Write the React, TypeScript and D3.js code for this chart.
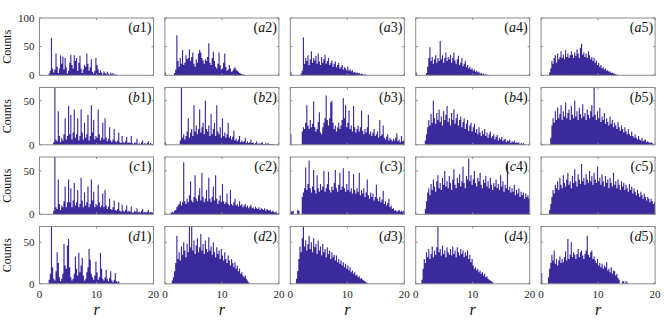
import React from 'react'
import * as d3 from 'd3'

// histogram counts, bins of width 0.2 starting at r = 0 (missing bins are empty)
const binWidth = 0.2
const rowIds = ['a', 'b', 'c', 'd']
const colIds = ['1', '2', '3', '4', '5']
const rowMax = [100, 65, 66, 69]
const rowTicks = [[0, 50, 100], [0, 50], [0, 50], [0, 50]]
const xTicks = [0, 10, 20]

const countsA1 = [0,0,0,0,0,0,0,0,3,8,65,12,5,10,38,15,4,12,35,20,33,10,30,14,3,8,22,36,18,12,35,25,30,8,22,34,12,4,10,18,15,38,20,8,14,28,6,3,8,30,18,10,4,9,5,2,7,4,2,6,3,1,5,2,4,1,2,1]
const countsA2 = [5,0,0,0,0,0,0,0,4,10,70,25,15,30,20,44,18,22,35,28,30,45,25,32,40,20,15,28,22,38,44,40,30,26,20,28,25,32,56,22,18,30,41,25,15,12,20,40,18,10,12,22,38,15,8,10,18,12,6,8,12,14,10,8,6,4,3,2,2,1]
const countsA3 = [6,0,0,0,0,0,0,0,0,3,8,66,20,30,25,35,18,28,42,22,30,26,34,20,38,24,18,32,22,28,36,20,25,30,18,22,26,15,20,24,14,18,22,12,15,18,10,14,12,9,15,8,10,7,9,5,6,4,5,3,4,2,3,2,1,2,1]
const countsA4 = [5,0,0,0,0,0,0,0,0,4,15,30,49,25,32,20,28,35,22,30,25,60,28,35,22,30,40,25,32,28,36,22,30,40,26,20,28,34,18,22,30,16,20,25,14,18,12,15,10,12,8,10,6,8,5,6,3,4,2,3,1,2,1,1]
const countsA5 = [0,0,0,0,0,0,0,5,12,25,20,30,35,22,38,28,32,42,30,36,28,44,32,38,30,35,42,36,30,40,34,45,38,30,48,55,36,40,32,38,30,42,35,28,32,25,30,22,26,18,22,15,18,12,14,10,12,8,9,6,7,4,5,3,3,2,1,1]

const countsB1 = [0,0,0,0,0,0,0,0,0,0,0,0,3,68,6,4,38,10,3,8,5,12,30,6,10,44,12,34,6,14,40,8,12,30,5,10,40,14,6,25,8,12,34,5,10,45,14,28,6,10,8,40,12,5,8,25,6,30,8,4,7,20,5,3,6,18,4,3,5,14,3,2,10,3,2,4,9,2,3,2,10,2,1,3,2,7,1,2,1,3,5,1,2,1,2,4,1,2,1,1]
const countsB2 = [3,0,0,0,0,0,0,0,0,0,0,0,0,5,68,8,12,6,10,15,30,8,14,18,10,45,15,22,12,18,40,14,20,25,12,50,18,15,22,10,35,12,18,25,10,45,15,12,20,8,30,10,14,8,12,25,8,10,6,9,16,5,7,4,6,10,3,5,3,4,8,2,4,2,3,6,2,3,1,2,4,1,2,1,2,3,1,1,2,1,2,1,1,1,1,1]
const countsB3 = [12,0,0,0,0,0,0,0,0,0,15,20,18,25,45,22,18,28,20,24,49,20,15,18,26,37,14,12,20,25,30,56,28,22,30,48,50,25,18,22,15,20,25,18,22,28,53,30,45,20,25,39,18,22,15,44,20,14,18,22,15,20,39,16,12,18,14,20,34,12,15,10,14,18,10,12,15,8,28,10,12,22,8,6,9,12,5,8,6,4,7,5,8,13,4,6,3,10,4,5]
const countsB4 = [0,0,0,0,0,0,0,0,5,12,20,28,22,35,25,50,30,24,36,28,40,26,32,22,38,28,34,44,26,30,22,36,28,40,24,30,35,22,28,32,20,26,30,18,24,28,16,22,25,15,20,24,14,18,12,20,14,10,16,12,18,10,14,8,12,15,8,10,12,6,9,11,5,8,6,9,4,6,7,3,5,4,6,2,4,3,5,2,3,2,3,1,2,1,2,1]
const countsB5 = [0,0,0,0,0,0,0,0,8,22,30,25,38,28,42,30,35,45,28,38,32,48,30,36,40,28,44,34,30,50,32,38,28,42,35,30,46,32,36,28,40,34,30,38,45,32,66,34,28,38,30,42,26,32,28,36,24,30,26,22,32,24,28,20,25,22,18,26,20,16,22,18,14,20,15,12,18,12,10,15,10,8,12,8,6,10,6,5,8,4,5,6,3,4,3,2,3,2,1,1]

const countsC1 = [0,0,0,0,0,0,0,0,0,0,0,0,4,66,8,6,40,12,5,10,8,15,32,8,14,40,14,30,8,16,36,10,14,28,8,12,42,16,8,25,10,14,32,8,12,40,16,26,8,12,10,34,14,8,10,24,8,28,10,6,9,18,6,5,8,16,5,4,6,14,4,3,11,4,3,5,10,3,4,3,9,2,2,4,3,7,2,3,2,4,6,2,3,2,3,5,2,3,2,2]
const countsC2 = [0,0,0,0,0,2,3,2,4,5,8,10,12,15,10,14,60,15,12,18,14,22,38,16,14,20,45,18,15,22,30,16,48,20,14,18,28,15,42,18,14,20,32,16,45,18,12,16,22,14,35,15,12,14,24,12,10,28,12,10,14,18,10,12,9,15,10,12,8,10,12,8,10,7,9,11,7,8,6,9,7,6,8,5,7,6,5,7,4,6,5,4,5,3,4,3,2,3,1,1]
const countsC3 = [4,3,4,0,0,0,5,4,0,0,20,25,30,54,28,35,62,30,25,32,51,28,24,45,30,26,35,28,32,50,26,30,35,49,28,25,32,28,36,51,30,26,34,48,28,32,53,30,26,35,28,50,26,30,24,46,28,24,30,26,48,22,28,24,30,20,25,40,22,18,25,20,24,16,20,34,18,15,20,14,17,27,12,15,10,13,18,8,10,6,7,4,5,3,4,5,3,4,3,4]
const countsC4 = [0,0,0,0,0,0,0,0,6,15,25,30,22,35,28,40,32,26,38,45,30,36,28,42,34,50,32,38,30,44,36,28,40,52,34,30,42,36,46,32,38,55,36,30,44,40,64,38,45,34,40,50,36,32,42,38,48,34,30,40,36,44,32,38,30,42,34,28,36,32,40,30,35,28,45,32,38,26,34,30,58,28,32,25,30,26,34,22,28,24,30,20,26,22,25,18,24,20,22,18]
const countsC5 = [0,0,0,0,0,0,0,5,12,20,28,24,34,30,38,28,42,34,30,45,36,32,40,48,34,38,30,44,36,52,38,32,46,40,35,58,38,42,34,46,40,36,50,38,44,34,48,40,36,55,38,42,34,46,38,32,44,36,40,30,42,36,32,48,34,38,30,40,34,28,38,32,36,28,34,30,26,35,28,32,24,30,26,22,28,24,20,26,22,18,24,20,16,20,18,14,18,15,12,14]

const countsD1 = [0,0,0,0,0,0,0,0,5,12,69,20,6,4,15,38,25,8,3,6,12,48,22,18,46,54,20,8,4,6,12,33,18,10,37,14,22,31,10,4,6,14,20,42,29,12,8,5,10,27,14,5,8,37,18,6,4,8,17,6,3,7,15,4,2,5,13,3,2,3]
const countsD2 = [0,0,0,0,0,0,4,8,15,25,58,30,38,28,45,35,50,40,32,48,38,69,44,69,40,52,36,46,55,38,44,60,40,48,36,52,42,38,56,40,45,35,50,38,32,44,36,40,30,42,34,28,38,30,25,34,28,22,30,25,20,26,18,22,15,18,12,14,10,8,10,6,4,2]
const countsD3 = [0,0,0,0,0,6,15,30,45,38,55,69,45,52,40,48,58,42,50,38,55,44,48,36,52,40,45,34,48,38,42,32,44,36,40,30,38,32,35,28,34,26,30,24,28,22,26,20,24,18,22,16,20,14,16,12,14,10,11,8,9,6,7,5,4,3,2,1]
const countsD4 = [0,0,0,0,0,5,18,30,25,38,32,42,30,36,45,32,40,35,44,69,38,42,34,46,36,40,32,44,38,35,42,34,45,36,40,32,44,38,34,42,36,40,32,38,34,40,30,35,26,30,22,18,20,16,18,14,16,12,14,10,12,8,9,6,5,4,3,2]
const countsD5 = [13,0,0,0,0,0,8,18,25,35,28,40,24,30,22,28,33,25,30,26,32,39,28,54,30,35,50,32,38,35,30,36,42,32,38,40,34,30,36,40,58,35,32,38,40,30,33,28,25,30,22,25,20,24,18,22,20,26,16,18,14,20,12,16,15,10,12,7,5,0,0,3,3,0,3,2]

const counts = [
  [countsA1, countsA2, countsA3, countsA4, countsA5],
  [countsB1, countsB2, countsB3, countsB4, countsB5],
  [countsC1, countsC2, countsC3, countsC4, countsC5],
  [countsD1, countsD2, countsD3, countsD4, countsD5],
]

const W = 664
const H = 321
const gridLeft = 39.5
const colPitch = 125.4
const panelW = 114
const gridTop = 18
const rowPitch = 69.5
const panelH = 57.3
const barColor = '#3a2a9c'
const boxColor = '#8a8a8a'
const font = '"Liberation Serif", "DejaVu Serif", serif'

function Panel({ row, col }: { row: number; col: number }) {
  const data = counts[row][col]
  const left = gridLeft + col * colPitch
  const top = gridTop + row * rowPitch
  const x = d3.scaleLinear().domain([0, 20]).range([0, panelW])
  const y = d3.scaleLinear().domain([0, rowMax[row]]).range([panelH, 0])
  const bw = x(binWidth) - x(0)
  const isBottom = row === rowIds.length - 1
  const tick = 2

  // all bars in one path so neighbouring bins don't leave hairline seams
  const path = d3.path()
  data.forEach((c, i) => {
    if (c <= 0) return
    const yy = y(Math.min(c, rowMax[row]))
    path.rect(x(i * binWidth), yy, bw, panelH - yy)
  })

  return (
    <g transform={`translate(${left},${top})`}>
      <path d={path.toString()} fill={barColor} />
      <rect x={0} y={0} width={panelW} height={panelH} fill="none" stroke={boxColor} strokeWidth={1} />
      {rowTicks[row].map(t => (
        <g key={'y' + t}>
          <line x1={0} x2={tick} y1={y(t)} y2={y(t)} stroke={boxColor} />
          <line x1={panelW - tick} x2={panelW} y1={y(t)} y2={y(t)} stroke={boxColor} />
          {col === 0 && (
            <text x={-5} y={y(t) + 3.8} textAnchor="end" fontSize={11} fontFamily={font} fill="#222">
              {t}
            </text>
          )}
        </g>
      ))}
      {xTicks.map(t => (
        <g key={'x' + t}>
          <line x1={x(t)} x2={x(t)} y1={panelH} y2={panelH - tick} stroke={boxColor} />
          <line x1={x(t)} x2={x(t)} y1={0} y2={tick} stroke={boxColor} />
          {isBottom && (
            <text x={x(t)} y={panelH + 14} textAnchor="middle" fontSize={11} fontFamily={font} fill="#222">
              {t}
            </text>
          )}
        </g>
      ))}
      <text x={panelW - 2} y={14} textAnchor="end" fontSize={14} fontFamily={font} fill="#111">
        (<tspan fontStyle="italic">{rowIds[row]}</tspan>{colIds[col]})
      </text>
      {col === 0 && (
        <text
          transform={`translate(${-29},${panelH / 2}) rotate(-90)`}
          textAnchor="middle"
          fontSize={12}
          fontFamily={font}
          fill="#111"
        >
          Counts
        </text>
      )}
      {isBottom && (
        <text x={panelW / 2} y={panelH + 31} textAnchor="middle" fontSize={16} fontStyle="italic" fontFamily={font} fill="#111">
          r
        </text>
      )}
    </g>
  )
}

export default function App() {
  return (
    <svg width={W} height={H} style={{ position: 'absolute', left: 0, top: 0, background: '#fff' }}>
      {rowIds.map((_, r) => colIds.map((_, c) => <Panel key={`${r}-${c}`} row={r} col={c} />))}
    </svg>
  )
}
